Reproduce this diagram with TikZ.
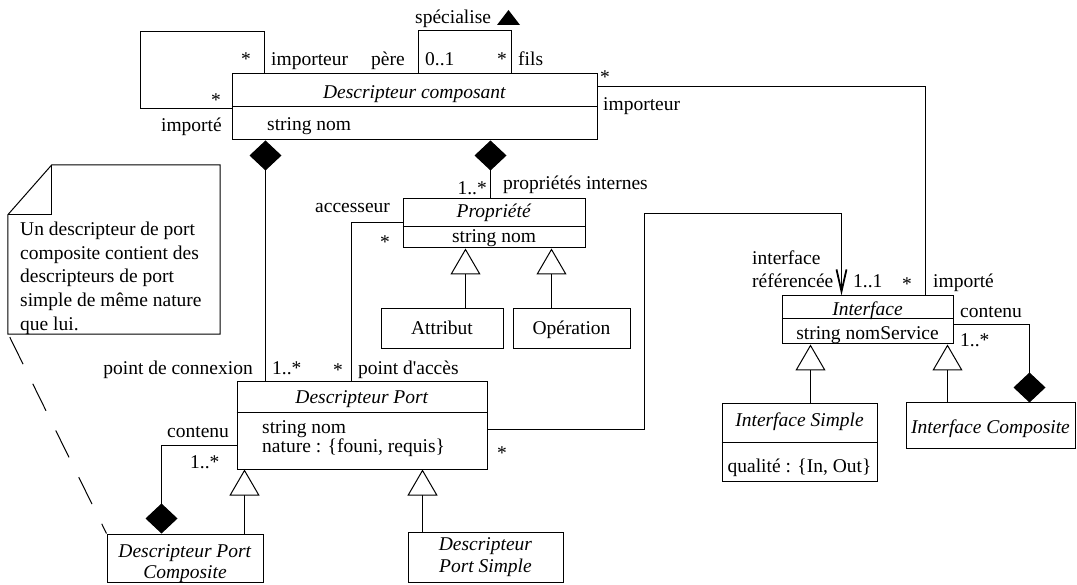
\documentclass[tikz,border=0pt]{standalone}
\usepackage{fontspec}
\setmainfont{Liberation Serif}
\usetikzlibrary{calc,arrows.meta}
\begin{document}
\begin{tikzpicture}[x=1pt,y=-1pt,
  font=\fontsize{19.5}{23.8}\selectfont,
  box/.style={draw, line width=1pt, inner sep=0pt},
  lbl/.style={inner sep=0pt},
  conn/.style={line width=1pt},
  comp/.style={conn, {Diamond[length=30pt,width=32pt]}-},
  gen/.style={conn, -{Triangle[open,length=26pt,width=30pt,fill=white]}},
  nav/.style={conn, -{Straight Barb[length=22pt,width=10pt,line width=1.8pt]}},
  div/.style={line width=1pt}]
\useasboundingbox (0,0) rectangle (1077,585);

% ---------- classes ----------
\node[box, minimum width=365, minimum height=66] (dc) at (414.5,107) {};
\draw[div] (dc.west) -- (dc.east);
\node[lbl, anchor=base] (dct) at (414.5,99) {\textit{Descripteur composant}};
\node[lbl, anchor=base west] (dca) at (267,131) {string nom};

\node[box, minimum width=182, minimum height=49] (prop) at (494,223.5) {};
\draw[div] ($(prop.north west)+(0,28)$) -- ($(prop.north east)+(0,28)$);
\node[lbl, anchor=base] (propt) at (494,218) {\textit{Propriété}};
\node[lbl, anchor=base] (propa) at (494,243) {string nom};

\node[box, minimum width=122, minimum height=40] (attr) at (442,329) {};
\node[lbl, anchor=base] (attrt) at (442,335) {Attribut};
\node[box, minimum width=117, minimum height=40] (oper) at (571.5,329) {};
\node[lbl, anchor=base] (opert) at (571.5,335) {Opération};

\node[box, minimum width=171, minimum height=48] (intf) at (867.5,320) {};
\draw[div] ($(intf.north west)+(0,23)$) -- ($(intf.north east)+(0,23)$);
\node[lbl, anchor=base] (intft) at (867.5,316) {\textit{Interface}};
\node[lbl, anchor=base] (intfa) at (867.5,340) {string nomService};

\node[box, minimum width=155, minimum height=77] (isimp) at (799.5,442.5) {};
\draw[div] ($(isimp.north west)+(0,39)$) -- ($(isimp.north east)+(0,39)$);
\node[lbl, anchor=base] (isimpt) at (799.5,427) {\textit{Interface Simple}};
\node[lbl, anchor=base] (isimpa) at (799.5,472) {qualité : \{In, Out\}};

\node[box, minimum width=169, minimum height=45] (icomp) at (990.5,425.5) {};
\node[lbl, anchor=base] (icompt) at (990.5,434) {\textit{Interface Composite}};

\node[box, minimum width=250, minimum height=87] (port) at (362,425.5) {};
\draw[div] ($(port.north west)+(0,31)$) -- ($(port.north east)+(0,31)$);
\node[lbl, anchor=base] (portt) at (362,404) {\textit{Descripteur Port}};
\node[lbl, anchor=base west] (porta) at (262,433) {string nom};
\node[lbl, anchor=base west] (portb) at (262,453) {nature : \{founi, requis\}};

\node[box, minimum width=156, minimum height=48] (dpc) at (185,558) {};
\node[lbl, anchor=base] (dpct1) at (185,557) {\textit{Descripteur Port}};
\node[lbl, anchor=base] (dpct2) at (185,578) {\textit{Composite}};

\node[box, minimum width=155, minimum height=50] (dps) at (485.5,557) {};
\node[lbl, anchor=base] (dpst1) at (485.5,550) {\textit{Descripteur}};
\node[lbl, anchor=base] (dpst2) at (485.5,572) {\textit{Port Simple}};

% ---------- note ----------
\node[inner sep=0pt, minimum width=212, minimum height=169] (note) at (114,249.5) {};
\draw[line width=1pt] (note.south west) -- ($(note.north west)+(0,50)$)
  -- ($(note.north west)+(44,0)$) -- (note.north east) -- (note.south east) -- cycle;
\draw[line width=0.8pt] ($(note.north west)+(0,50)$) -- ($(note.north west)+(44,50)$)
  -- ($(note.north west)+(44,0)$);
\node[lbl, anchor=north west, align=left] (notet) at (20,221.5)
  {Un descripteur de port\\composite contient des\\descripteurs de port\\simple de même nature\\que lui.};
\draw[conn, dash pattern=on 30pt off 22pt] ($(note.south west)+(2,3)$) -- (dpc.north west);

% ---------- associations ----------
% reflexive import
\draw[conn] ($(dc.north west)+(33,0)$) -- ++(0,-42) -| ($(dc.west)+(-91,2)$) -- ($(dc.west)+(0,2)$);
% specialisation
\draw[conn] ($(dc.north west)+(187,0)$) |- ($(dc.north west)+(280,-43)$) -- ($(dc.north west)+(280,0)$);
\fill (497,25) -- (508.5,10) -- (520,25) -- cycle;
% import of interfaces
\draw[conn] ($(dc.north east)+(0,13)$) -| ($(intf.north east)+(-28,0)$);
% compositions
\draw[comp] ($(dc.south west)+(34,0)$) -- ($(port.north west)+(29,0)$);
\draw[comp] ($(dc.south west)+(259,0)$) -- ($(prop.north west)+(88,0)$);
\draw[comp] ($(icomp.north west)+(124,0)$) |- ($(intf.north east)+(0,29)$);
\draw[comp] ($(dpc.north west)+(55,0)$) |- ($(port.north west)+(0,64)$);
% accessor
\draw[conn] ($(prop.north west)+(0,24)$) -| ($(port.north west)+(115,0)$);
% referenced interface
\draw[nav] ($(port.north east)+(0,48)$) -| ($(intf.north west)+(-137,-82)$) -| ($(intf.north west)+(60,0)$);
% generalisations
\draw[gen] ($(dpc.north west)+(138,0)$) -- ($(port.south west)+(8,0)$);
\draw[gen] ($(dps.north west)+(15,0)$) -- ($(port.south west)+(186,0)$);
\draw[gen] ($(attr.north west)+(85,0)$) -- ($(prop.south west)+(63,0)$);
\draw[gen] ($(oper.north west)+(39,0)$) -- ($(prop.south west)+(149,0)$);
\draw[gen] ($(isimp.north west)+(89,0)$) -- ($(intf.south west)+(29,0)$);
\draw[gen] ($(icomp.north west)+(42,0)$) -- ($(intf.south west)+(166,0)$);

% ---------- role names and multiplicities ----------
\node[lbl, anchor=base] (m1) at (246,66) {*};
\node[lbl, anchor=base west] (r1) at (271,66) {importeur};
\node[lbl, anchor=base] (m2) at (216,107) {*};
\node[lbl, anchor=base east] (r2) at (222,132) {importé};
\node[lbl, anchor=base east] (r3) at (405,66) {père};
\node[lbl, anchor=base west] (m3) at (425,66) {0..1};
\node[lbl, anchor=base] (m4) at (502,66) {*};
\node[lbl, anchor=base west] (r4) at (518,66) {fils};
\node[lbl, anchor=base west] (r5) at (415,24) {spécialise};
\node[lbl, anchor=base] (m5) at (605,84) {*};
\node[lbl, anchor=base west] (r6) at (603,111) {importeur};
\node[lbl, anchor=base east] (m6) at (487,195) {1..*};
\node[lbl, anchor=base west] (r7) at (503,190) {propriétés internes};
\node[lbl, anchor=base west] (r8) at (315,213) {accesseur};
\node[lbl, anchor=base] (m7) at (385,249) {*};
\node[lbl, anchor=base west] (r9) at (752,265) {interface};
\node[lbl, anchor=base west] (r10) at (752,288) {référencée};
\node[lbl, anchor=base west] (m8) at (853,288) {1..1};
\node[lbl, anchor=base] (m9) at (907,291) {*};
\node[lbl, anchor=base west] (r11) at (933,288) {importé};
\node[lbl, anchor=base west] (r12) at (960,318) {contenu};
\node[lbl, anchor=base west] (m10) at (960,347) {1..*};
\node[lbl, anchor=base east] (r13) at (253,375) {point de connexion};
\node[lbl, anchor=base west] (m11) at (272,375) {1..*};
\node[lbl, anchor=base] (m12) at (338,377) {*};
\node[lbl, anchor=base west] (r14) at (358,375) {point d\textquotesingle accès};
\node[lbl, anchor=base] (m13) at (502,460) {*};
\node[lbl, anchor=base west] (r15) at (167,437) {contenu};
\node[lbl, anchor=base west] (m14) at (190,468) {1..*};
\end{tikzpicture}
\end{document}
